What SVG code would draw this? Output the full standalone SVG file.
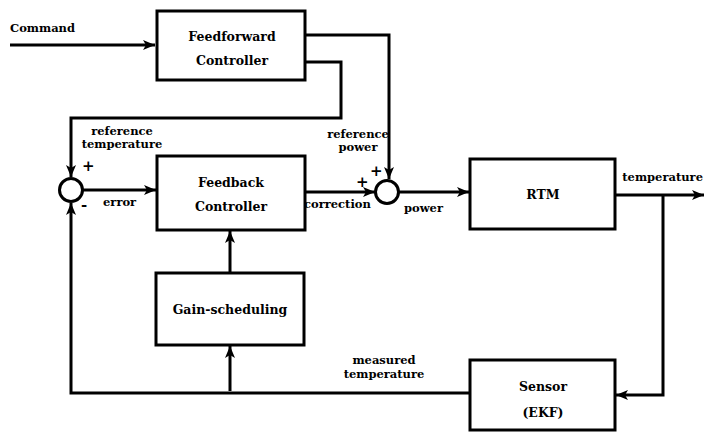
<svg xmlns="http://www.w3.org/2000/svg" width="706" height="435" viewBox="0 0 706 435">
<style>
.box{fill:#fff;stroke:#000;stroke-width:3}
.ln{fill:none;stroke:#000;stroke-width:3}
text{font-family:"DejaVu Serif","Liberation Serif",serif;font-weight:bold;fill:#000}
.t{font-size:12.5px;text-anchor:middle}
.s{font-size:11.5px}
.p{font-size:15px}
</style>
<defs>
<marker id="ar" viewBox="0 0 12 10" refX="12" refY="5" markerWidth="12" markerHeight="10" markerUnits="userSpaceOnUse" orient="auto">
<path d="M0,0 L12,5 L0,10 L3,5 Z" fill="#000"/>
</marker>
</defs>
<rect width="706" height="435" fill="#fff"/>
<g id="connectors">
<path class="ln" d="M10,45 H155" marker-end="url(#ar)"/>
<path class="ln" d="M305,35 H389 V179" marker-end="url(#ar)"/>
<path class="ln" d="M305,62 H341 V118 H71 V177" marker-end="url(#ar)"/>
<path class="ln" d="M83,190 H156" marker-end="url(#ar)"/>
<path class="ln" d="M305,192 H375" marker-end="url(#ar)"/>
<path class="ln" d="M399,192 H469" marker-end="url(#ar)"/>
<path class="ln" d="M615,195 H704" marker-end="url(#ar)"/>
<path class="ln" d="M663,195 V395 H616" marker-end="url(#ar)"/>
<path class="ln" d="M470,393 H71 V203" marker-end="url(#ar)"/>
<path class="ln" d="M230,391 V346" marker-end="url(#ar)"/>
<path class="ln" d="M230,273 V231" marker-end="url(#ar)"/>
</g>
<g id="sum1"><circle cx="71" cy="190" r="11.5" fill="#fff" stroke="#000" stroke-width="3"/><text class="p" x="82" y="171">+</text><text class="p" x="81" y="210">-</text></g>
<g id="sum2"><circle cx="387" cy="192" r="11.5" fill="#fff" stroke="#000" stroke-width="3"/><text class="p" x="356" y="187">+</text><text class="p" x="370" y="176">+</text></g>
<g id="feedforward"><rect class="box" x="157" y="11" width="148" height="69"/><text class="t" x="232" y="41">Feedforward</text><text class="t" x="232" y="65">Controller</text></g>
<g id="feedback"><rect class="box" x="157" y="156" width="148" height="74"/><text class="t" x="231" y="187">Feedback</text><text class="t" x="231" y="211">Controller</text></g>
<g id="gain"><rect class="box" x="156" y="273" width="148" height="72"/><text class="t" x="230" y="314">Gain-scheduling</text></g>
<g id="rtm"><rect class="box" x="470" y="159" width="145" height="70"/><text class="t" x="543" y="199">RTM</text></g>
<g id="sensor"><rect class="box" x="470" y="360" width="145" height="70"/><text class="t" x="543" y="391">Sensor</text><text class="t" x="543" y="417">(EKF)</text></g>
<g id="labels">
<text class="s" x="10" y="32">Command</text>
<text class="s" x="122" y="135" text-anchor="middle">reference</text>
<text class="s" x="122" y="148" text-anchor="middle">temperature</text>
<text class="s" x="358" y="138" text-anchor="middle">reference</text>
<text class="s" x="358" y="151" text-anchor="middle">power</text>
<text class="s" x="103" y="206">error</text>
<text class="s" x="304" y="208">correction</text>
<text class="s" x="404" y="212">power</text>
<text class="s" x="703" y="181" text-anchor="end" font-size="11">temperature</text>
<text class="s" x="384" y="364" text-anchor="middle">measured</text>
<text class="s" x="384" y="378" text-anchor="middle">temperature</text>
</g>
</svg>
